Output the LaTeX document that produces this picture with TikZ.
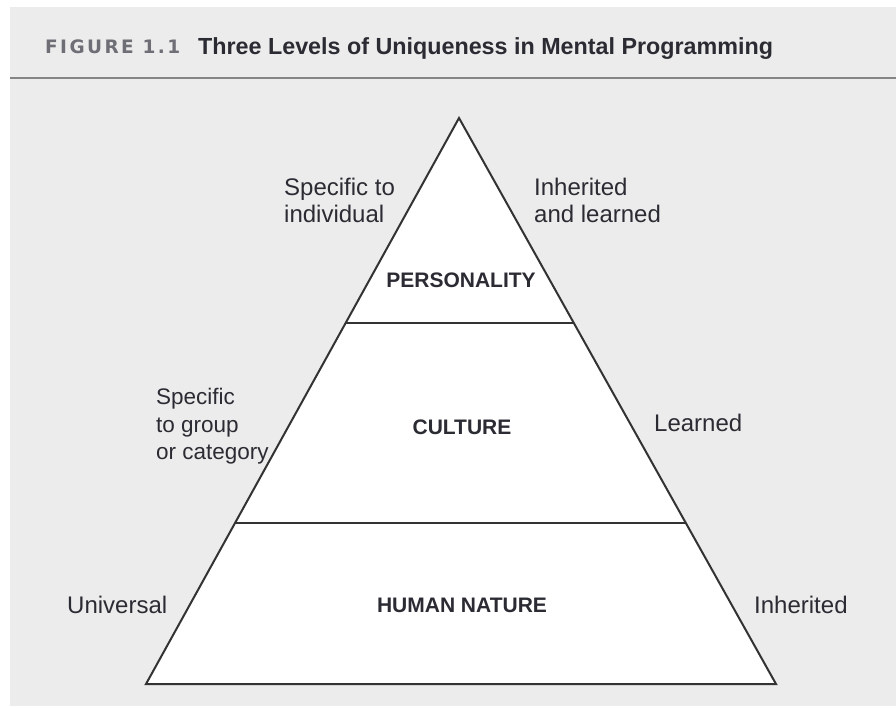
\documentclass[tikz,border=0pt]{standalone}
\usepackage{fontspec}
\setmainfont{Liberation Sans}
\newfontfamily\figfont[LetterSpace=13]{DejaVu Sans}
\usetikzlibrary{calc}

\definecolor{hgrund}{HTML}{ECECEC}
\definecolor{linie}{HTML}{858585}
\definecolor{schrift}{HTML}{2B2B33}
\definecolor{figgrau}{HTML}{6E6E76}

\begin{document}
\begin{tikzpicture}
		[
		x=1pt, y=-1pt, font=\fontsize{24}{27.5}\selectfont, >=latex,
		%Voreinstellungen für Beschriftungen (base = letzte Zeile)
		seite/.style={anchor=base west, align=left, inner sep=0pt, text=schrift},
		ebene/.style={anchor=base, inner sep=0pt, font=\fontsize{21}{24}\selectfont\bfseries, text=schrift}
		]
		
		%Hintergrund
		\useasboundingbox (0,0) rectangle (896,707);
		\fill[hgrund] (10,7) rectangle (896,706);
		
		%Titelzeile
		\node[anchor=base west, inner sep=0pt, font=\figfont\fontsize{18.5}{20}\selectfont\bfseries, text=figgrau] (fig) at (45,53) {FIGURE 1.1};
		\node[anchor=base west, inner sep=0pt, font=\fontsize{23.3}{26}\selectfont\bfseries, text=schrift] (titel) at (198,54) {Three Levels of Uniqueness in Mental Programming};
		\draw[linie, line width=2.5pt] (10,78) -- (896,78);
		
		%Dreieck
		\coordinate (spitze) at (459,118);
		\coordinate (links) at (146,684);
		\coordinate (rechts) at (776,684);
		\filldraw[fill=white, draw=black!80, line width=2pt] (spitze) -- (links) -- (rechts) -- cycle;
		
		%Trennlinien
		\draw[black!80, line width=2pt] ($(spitze)!0.3622!(links)$) -- ($(spitze)!0.3622!(rechts)$);
		\draw[black!80, line width=2pt] ($(spitze)!0.7155!(links)$) -- ($(spitze)!0.7155!(rechts)$);
		
		%Ebenen
		\node[ebene] (pers) at (461,287.5) {PERSONALITY};
		\node[ebene] (kultur) at (462,434.5) {CULTURE};
		\node[ebene] (natur) at (462,612) {HUMAN NATURE};
		
		%linke Seite
		\node[seite] (indiv) at (284,222.5) {Specific to\\individual};
		\node[seite, font=\fontsize{22.5}{27.5}\selectfont] (gruppe) at (156,459.5) {Specific\\to group\\or category};
		\node[seite] (univ) at (67,613) {Universal};
		
		%rechte Seite
		\node[seite] (erblern) at (534,222.5) {Inherited\\and learned};
		\node[seite] (lern) at (654,431.5) {Learned};
		\node[seite] (erb) at (754,613) {Inherited};
	\end{tikzpicture}
\end{document}
